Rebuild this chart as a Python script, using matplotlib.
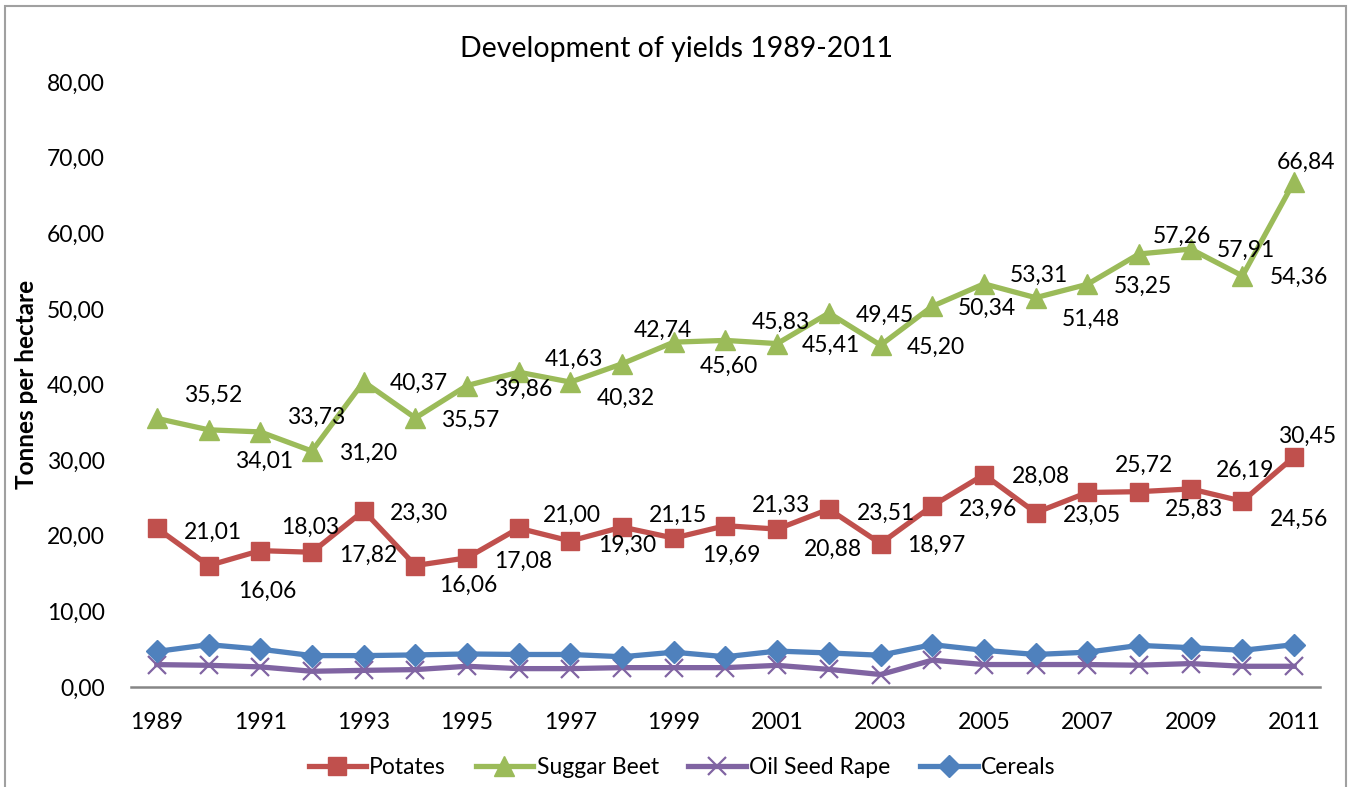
import matplotlib
matplotlib.use("Agg")
import matplotlib.pyplot as plt
from matplotlib.patches import Rectangle

plt.rcParams['font.family'] = ['Lato', 'DejaVu Sans']

years = list(range(1989, 2012))
tick_years = list(range(1989, 2012, 2))

potatoes = [21.01, 16.06, 18.03, 17.82, 23.30, 16.06, 17.08, 21.00, 19.30, 21.15, 19.69,
            21.33, 20.88, 23.51, 18.97, 23.96, 28.08, 23.05, 25.72, 25.83, 26.19, 24.56, 30.45]
sugar_beet = [35.52, 34.01, 33.73, 31.20, 40.37, 35.57, 39.86, 41.63, 40.32, 42.74, 45.60,
              45.83, 45.41, 49.45, 45.20, 50.34, 53.31, 51.48, 53.25, 57.26, 57.91, 54.36, 66.84]
oil_seed_rape = [2.96, 2.87, 2.66, 2.08, 2.20, 2.30, 2.74, 2.43, 2.43, 2.56, 2.56,
                 2.56, 2.86, 2.33, 1.65, 3.55, 2.97, 2.97, 2.97, 2.88, 3.10, 2.74, 2.74]
cereals = [4.70, 5.60, 5.00, 4.15, 4.15, 4.24, 4.37, 4.30, 4.30, 4.00, 4.60,
           4.00, 4.75, 4.50, 4.20, 5.60, 4.85, 4.30, 4.60, 5.50, 5.20, 4.85, 5.60]

series_names = ["Potates", "Suggar Beet", "Oil Seed Rape", "Cereals"]
title = "Development of yields 1989-2011"
ylabel = "Tonnes per hectare"

# label offsets in pixels (dx right, dy down) -- layout only
sugar_off = [(56, -25), (56, 30), (56, -17), (56, 0), (55, 0), (55, 0), (56, 2), (55, -15),
             (55, 14), (41, -35), (55, 22), (55, -20), (54, 0), (56, 0), (55, 0), (55, 0),
             (55, -10), (55, 20), (56, 0), (43, -20), (55, -1), (57, -1), (12, -21)]
pot_off = [(56, 2), (59, 24), (50, -25), (56, 1), (55, 1), (53, 18), (56, 2), (53, -15),
           (57, 2), (56, -14), (57, 15), (56, -22), (56, 18), (57, 2), (56, 0), (56, 2),
           (57, 0), (56, 1), (57, -29), (55, 16), (54, -21), (57, 16), (13, -22)]

fig = plt.figure(figsize=(13.54, 7.87), dpi=100)
ax = fig.add_axes([131/1354, 100/787, 1189/1354, 605/787])

x = list(range(len(years)))
c_pot, c_sug, c_oil, c_cer = "#C0504D", "#9BBB59", "#8064A2", "#4F81BD"
lw = 3.8
ax.plot(x, potatoes, color=c_pot, lw=lw, marker='s', ms=13, label=series_names[0], zorder=3)
ax.plot(x, sugar_beet, color=c_sug, lw=lw, marker='^', ms=14, label=series_names[1], zorder=3)
ax.plot(x, oil_seed_rape, color=c_oil, lw=lw, marker='x', ms=12.5, mew=1.6, label=series_names[2], zorder=3)
ax.plot(x, cereals, color=c_cer, lw=lw, marker='D', ms=11.5, label=series_names[3], zorder=4)

def fmt(v):
    return f"{v:.2f}".replace('.', ',')

fs = 16.5
for i, v in enumerate(sugar_beet):
    dx, dy = sugar_off[i]
    ax.annotate(fmt(v), (i, v), xytext=(dx, -dy - 2), textcoords='offset pixels',
                ha='center', va='center', fontsize=fs, color='black', zorder=5)
for i, v in enumerate(potatoes):
    dx, dy = pot_off[i]
    ax.annotate(fmt(v), (i, v), xytext=(dx, -dy - 2), textcoords='offset pixels',
                ha='center', va='center', fontsize=fs, color='black', zorder=5)

ax.set_xlim(-0.5, len(years) - 0.5)
ax.set_ylim(0, 80)
ax.set_yticks(range(0, 81, 10))
ax.set_yticklabels([fmt(float(t)) for t in range(0, 81, 10)], fontsize=fs)
ax.set_xticks([years.index(t) for t in tick_years])
ax.set_xticklabels([str(t) for t in tick_years], fontsize=fs)
ax.tick_params(axis='y', length=0, pad=19)
ax.tick_params(axis='x', length=0, pad=18)
for s in ['top', 'right', 'left']:
    ax.spines[s].set_visible(False)
ax.spines['bottom'].set_color('#868686')
ax.spines['bottom'].set_linewidth(1.8)
ax.set_ylabel(ylabel, fontsize=17.5, fontweight='bold')
ax.yaxis.set_label_coords((38 - 131) / 1189, 0.5)

fig.text(676/1354, 1 - 49/787, title, ha='center', va='center', fontsize=20.5)

fig.legend(loc='center', bbox_to_anchor=(682/1354, 19/787), ncol=4, frameon=False,
           fontsize=fs, handlelength=2.5, handletextpad=0.15, columnspacing=1.3)

fig.patches.append(Rectangle((5/1354, -0.05), 1341/1354, 1.05 - 6/787, transform=fig.transFigure,
                             fill=False, edgecolor='#A0A0A0', lw=1.5))

fig.savefig("out.png", dpi=100)
